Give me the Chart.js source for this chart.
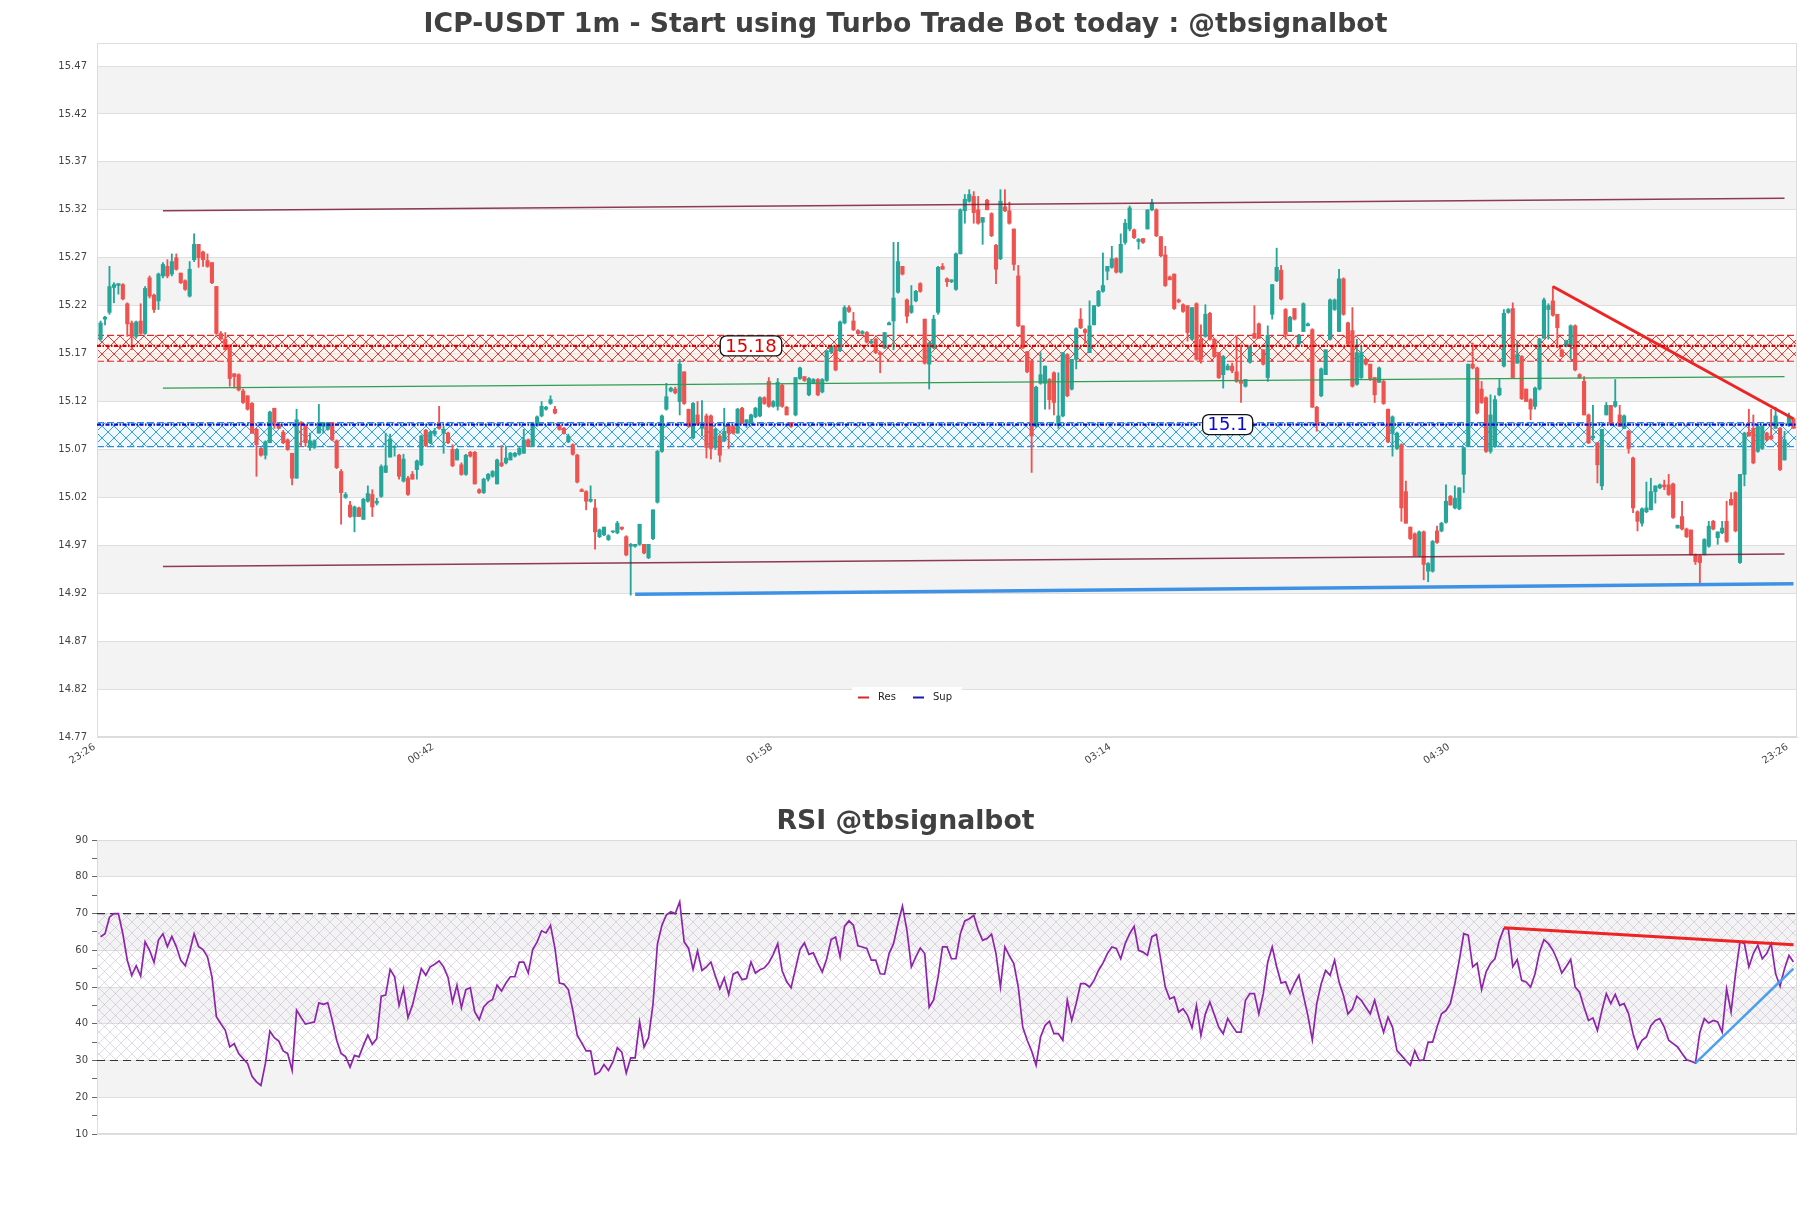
<!DOCTYPE html>
<html><head><meta charset="utf-8">
<script src="https://cdn.jsdelivr.net/npm/chart.js@4.4.1/dist/chart.umd.min.js"></script>
<style>
html,body{margin:0;padding:0;background:#fff;width:1811px;height:1208px;overflow:hidden}
canvas{position:absolute;left:0}
#c1{top:0}
#c2{top:790px}
</style></head><body>
<canvas id="c1" width="1811" height="790"></canvas>
<canvas id="c2" width="1811" height="418"></canvas>
<script>
// ---------------- data ----------------
const opens = [15.185,15.206,15.213,15.239,15.241,15.242,15.222,15.202,15.188,15.204,
15.191,15.249,15.231,15.225,15.251,15.261,15.253,15.270,15.254,15.246,
15.230,15.268,15.284,15.276,15.267,15.265,15.240,15.191,15.185,15.179,
15.149,15.148,15.131,15.126,15.118,15.091,15.071,15.064,15.077,15.113,
15.096,15.088,15.080,15.066,15.040,15.098,15.095,15.072,15.072,15.087,
15.094,15.091,15.098,15.079,15.047,15.020,15.012,15.000,15.009,14.997,
15.016,15.023,15.014,15.021,15.046,15.062,15.072,15.064,15.037,15.040,
15.044,15.049,15.054,15.090,15.077,15.086,15.096,15.087,15.087,15.070,
15.059,15.054,15.044,15.067,15.067,15.028,15.025,15.039,15.042,15.034,
15.056,15.056,15.059,15.063,15.065,15.066,15.080,15.073,15.095,15.105,
15.112,15.118,15.112,15.095,15.092,15.078,15.075,15.064,15.028,15.026,
15.016,15.009,14.979,14.981,14.976,14.984,14.983,14.989,14.979,14.969,
14.969,14.971,14.971,14.957,14.977,15.015,15.068,15.112,15.131,15.133,
15.120,15.151,15.112,15.082,15.106,15.092,15.105,15.105,15.072,15.084,
15.079,15.095,15.094,15.087,15.113,15.098,15.098,15.104,15.105,15.124,
15.141,15.115,15.115,15.137,15.114,15.098,15.106,15.144,15.146,15.127,
15.139,15.143,15.130,15.142,15.172,15.178,15.173,15.202,15.218,15.204,
15.194,15.191,15.192,15.181,15.185,15.171,15.176,15.200,15.204,15.234,
15.261,15.226,15.213,15.225,15.243,15.206,15.159,15.176,15.213,15.261,
15.248,15.245,15.237,15.274,15.319,15.329,15.334,15.320,15.307,15.330,
15.316,15.283,15.269,15.323,15.319,15.300,15.251,15.199,15.172,15.162,
15.094,15.139,15.139,15.143,15.150,15.095,15.105,15.169,15.133,15.164,
15.206,15.195,15.171,15.200,15.220,15.235,15.256,15.260,15.269,15.255,
15.286,15.300,15.299,15.287,15.290,15.300,15.320,15.320,15.292,15.273,
15.250,15.253,15.226,15.221,15.220,15.185,15.222,15.185,15.188,15.212,
15.185,15.171,15.148,15.153,15.157,15.151,15.141,15.136,15.161,15.191,
15.201,15.174,15.145,15.211,15.246,15.257,15.216,15.193,15.217,15.180,
15.193,15.199,15.195,15.114,15.126,15.148,15.185,15.216,15.193,15.248,
15.202,15.194,15.138,15.145,15.164,15.159,15.145,15.140,15.141,15.112,
15.087,15.071,15.075,15.026,14.989,14.982,14.959,14.984,14.943,14.943,
14.985,14.985,14.994,15.021,15.009,15.008,15.044,15.073,15.159,15.155,
15.133,15.124,15.068,15.073,15.127,15.157,15.213,15.217,15.160,15.167,
15.133,15.122,15.115,15.133,15.186,15.216,15.225,15.211,15.174,15.178,
15.178,15.199,15.148,15.141,15.106,15.082,15.077,15.032,15.106,15.116,
15.115,15.106,15.092,15.089,15.061,15.005,14.993,15.005,15.007,15.026,
15.030,15.033,15.033,15.034,14.988,15.000,14.987,14.986,14.960,14.959,
14.960,14.969,14.995,14.978,14.983,14.995,15.018,15.025,14.952,15.044,
15.088,15.092,15.068,15.071,15.087,15.084,15.092,15.092,15.059,15.095,
15.102];
const highs = [15.204,15.209,15.261,15.244,15.243,15.243,15.223,15.204,15.204,15.222,
15.240,15.251,15.232,15.254,15.265,15.268,15.274,15.274,15.254,15.247,
15.266,15.295,15.284,15.277,15.274,15.265,15.240,15.193,15.192,15.179,
15.149,15.149,15.133,15.126,15.119,15.092,15.072,15.079,15.110,15.113,
15.097,15.090,15.081,15.066,15.112,15.099,15.096,15.087,15.080,15.117,
15.098,15.098,15.098,15.080,15.049,15.025,15.016,15.011,15.010,15.019,
15.032,15.028,15.019,15.054,15.087,15.086,15.074,15.065,15.065,15.042,
15.047,15.059,15.085,15.091,15.089,15.092,15.115,15.094,15.088,15.075,
15.071,15.056,15.065,15.068,15.068,15.029,15.040,15.045,15.048,15.060,
15.074,15.073,15.067,15.067,15.072,15.091,15.081,15.098,15.105,15.120,
15.115,15.126,15.115,15.096,15.093,15.086,15.076,15.065,15.029,15.027,
15.032,15.018,14.987,14.989,14.981,14.985,14.995,14.989,14.980,14.972,
14.971,14.992,14.971,14.971,15.007,15.069,15.106,15.139,15.135,15.135,
15.164,15.151,15.112,15.119,15.120,15.121,15.107,15.106,15.092,15.086,
15.113,15.096,15.095,15.113,15.114,15.101,15.107,15.114,15.125,15.125,
15.145,15.121,15.144,15.138,15.115,15.098,15.145,15.156,15.146,15.145,
15.144,15.144,15.144,15.173,15.178,15.178,15.204,15.220,15.220,15.213,
15.195,15.194,15.193,15.185,15.186,15.172,15.192,15.203,15.286,15.286,
15.261,15.227,15.241,15.236,15.244,15.206,15.182,15.210,15.261,15.264,
15.249,15.247,15.275,15.321,15.336,15.341,15.339,15.334,15.312,15.331,
15.317,15.284,15.341,15.341,15.328,15.300,15.262,15.199,15.172,15.163,
15.136,15.171,15.157,15.144,15.151,15.150,15.171,15.170,15.164,15.197,
15.217,15.196,15.225,15.220,15.236,15.275,15.261,15.282,15.270,15.295,
15.310,15.324,15.300,15.290,15.290,15.320,15.331,15.321,15.292,15.282,
15.251,15.253,15.227,15.222,15.220,15.218,15.223,15.200,15.221,15.213,
15.186,15.171,15.168,15.159,15.160,15.188,15.179,15.143,15.178,15.220,
15.202,15.174,15.199,15.242,15.280,15.262,15.217,15.209,15.217,15.190,
15.223,15.202,15.196,15.115,15.155,15.174,15.227,15.227,15.258,15.249,
15.203,15.218,15.185,15.178,15.165,15.159,15.145,15.156,15.142,15.112,
15.105,15.088,15.076,15.037,14.989,14.983,14.985,14.985,14.952,14.975,
14.990,14.994,15.033,15.022,15.032,15.030,15.072,15.159,15.181,15.156,
15.141,15.125,15.127,15.126,15.143,15.216,15.217,15.223,15.183,15.168,
15.133,15.123,15.135,15.186,15.228,15.222,15.240,15.211,15.174,15.184,
15.200,15.200,15.149,15.146,15.107,15.116,15.077,15.091,15.119,15.116,
15.143,15.116,15.106,15.090,15.062,15.006,15.009,15.036,15.040,15.032,
15.034,15.038,15.044,15.035,14.991,15.016,14.988,14.986,14.961,14.960,
14.977,14.995,14.996,14.984,14.995,15.016,15.025,15.026,15.044,15.088,
15.112,15.106,15.094,15.095,15.088,15.112,15.114,15.093,15.089,15.108,
15.103];
const lows = [15.183,15.200,15.211,15.223,15.232,15.226,15.188,15.174,15.186,15.190,
15.190,15.228,15.213,15.216,15.249,15.249,15.251,15.257,15.243,15.236,
15.229,15.266,15.260,15.261,15.260,15.243,15.190,15.185,15.174,15.136,
15.134,15.131,15.118,15.111,15.087,15.042,15.063,15.060,15.077,15.092,
15.092,15.076,15.069,15.033,15.040,15.073,15.073,15.069,15.071,15.087,
15.087,15.090,15.079,15.050,14.992,15.019,14.999,14.984,15.000,14.997,
15.015,15.000,15.012,15.020,15.046,15.062,15.063,15.039,15.036,15.022,
15.039,15.039,15.053,15.073,15.076,15.084,15.091,15.066,15.076,15.052,
15.059,15.043,15.043,15.062,15.034,15.024,15.024,15.037,15.041,15.034,
15.052,15.055,15.059,15.062,15.064,15.066,15.073,15.073,15.094,15.104,
15.111,15.117,15.107,15.090,15.086,15.077,15.064,15.035,15.026,15.007,
15.015,14.966,14.978,14.980,14.975,14.983,14.982,14.986,14.959,14.918,
14.968,14.970,14.961,14.956,14.976,15.014,15.067,15.111,15.130,15.128,
15.106,15.117,15.093,15.081,15.095,15.084,15.061,15.060,15.070,15.057,
15.078,15.071,15.086,15.087,15.097,15.093,15.097,15.103,15.104,15.117,
15.114,15.114,15.111,15.114,15.106,15.093,15.105,15.143,15.141,15.126,
15.139,15.126,15.129,15.141,15.170,15.152,15.172,15.201,15.213,15.194,
15.190,15.190,15.181,15.180,15.170,15.150,15.175,15.200,15.174,15.233,
15.252,15.202,15.212,15.224,15.234,15.159,15.133,15.175,15.211,15.258,
15.240,15.244,15.236,15.274,15.306,15.328,15.306,15.305,15.284,15.320,
15.292,15.243,15.268,15.318,15.305,15.257,15.198,15.175,15.150,15.046,
15.093,15.138,15.112,15.112,15.106,15.092,15.104,15.125,15.132,15.154,
15.196,15.181,15.171,15.200,15.219,15.234,15.247,15.259,15.254,15.254,
15.284,15.298,15.290,15.279,15.285,15.300,15.319,15.292,15.271,15.240,
15.247,15.216,15.223,15.213,15.183,15.184,15.163,15.160,15.187,15.184,
15.166,15.144,15.134,15.153,15.150,15.140,15.119,15.135,15.160,15.186,
15.186,15.158,15.141,15.206,15.245,15.226,15.185,15.193,15.205,15.178,
15.193,15.199,15.114,15.089,15.125,15.148,15.184,15.215,15.193,15.210,
15.179,15.135,15.137,15.144,15.158,15.142,15.119,15.140,15.117,15.077,
15.063,15.070,14.995,14.993,14.976,14.959,14.958,14.934,14.932,14.942,
14.972,14.984,14.993,15.012,15.008,15.007,15.025,15.073,15.154,15.107,
15.118,15.067,15.066,15.072,15.126,15.156,15.212,15.144,15.160,15.122,
15.120,15.101,15.112,15.132,15.186,15.185,15.209,15.176,15.167,15.177,
15.164,15.152,15.144,15.106,15.076,15.080,15.035,15.028,15.106,15.095,
15.114,15.094,15.092,15.066,15.004,14.985,14.990,15.004,15.007,15.014,
15.029,15.028,15.022,14.998,14.988,14.986,14.978,14.960,14.950,14.929,
14.960,14.968,14.986,14.971,14.982,14.973,15.012,14.984,14.951,15.032,
15.084,15.055,15.067,15.070,15.079,15.080,15.092,15.048,15.059,15.094,
15.092];
const closes = [15.202,15.208,15.240,15.242,15.243,15.227,15.201,15.188,15.203,15.191,
15.238,15.230,15.216,15.253,15.263,15.251,15.266,15.258,15.244,15.237,
15.258,15.284,15.270,15.268,15.261,15.244,15.191,15.185,15.174,15.144,
15.146,15.132,15.119,15.112,15.087,15.075,15.064,15.078,15.109,15.098,
15.092,15.077,15.070,15.040,15.101,15.096,15.077,15.079,15.079,15.098,
15.098,15.098,15.080,15.051,15.025,15.023,15.000,15.010,15.000,15.018,
15.024,15.010,15.016,15.052,15.053,15.081,15.073,15.042,15.060,15.023,
15.039,15.058,15.084,15.074,15.088,15.089,15.092,15.091,15.077,15.053,
15.070,15.044,15.064,15.063,15.034,15.025,15.039,15.044,15.047,15.059,
15.053,15.061,15.066,15.066,15.071,15.080,15.073,15.096,15.104,15.115,
15.114,15.122,15.108,15.091,15.087,15.084,15.065,15.036,15.026,15.016,
15.018,14.984,14.986,14.989,14.980,14.985,14.993,14.987,14.960,14.971,
14.971,14.992,14.962,14.971,15.007,15.068,15.105,15.125,15.134,15.129,
15.159,15.118,15.094,15.118,15.096,15.096,15.072,15.071,15.091,15.064,
15.089,15.087,15.087,15.112,15.098,15.101,15.106,15.113,15.124,15.118,
15.115,15.120,15.140,15.115,15.106,15.094,15.145,15.155,15.142,15.144,
15.143,15.127,15.143,15.173,15.178,15.153,15.203,15.218,15.214,15.195,
15.191,15.193,15.182,15.183,15.171,15.169,15.192,15.202,15.228,15.266,
15.253,15.209,15.220,15.235,15.235,15.160,15.181,15.206,15.260,15.258,
15.245,15.247,15.274,15.320,15.331,15.336,15.317,15.306,15.312,15.320,
15.293,15.258,15.329,15.319,15.306,15.263,15.199,15.176,15.151,15.084,
15.135,15.148,15.157,15.122,15.119,15.105,15.171,15.126,15.164,15.196,
15.197,15.192,15.199,15.220,15.235,15.241,15.261,15.269,15.255,15.284,
15.306,15.322,15.291,15.289,15.286,15.320,15.327,15.293,15.272,15.241,
15.247,15.217,15.224,15.214,15.192,15.218,15.164,15.164,15.211,15.185,
15.167,15.145,15.167,15.157,15.152,15.141,15.139,15.143,15.177,15.186,
15.186,15.159,15.189,15.242,15.260,15.227,15.190,15.208,15.206,15.188,
15.222,15.201,15.114,15.096,15.154,15.174,15.226,15.226,15.248,15.211,
15.180,15.136,15.171,15.171,15.159,15.143,15.127,15.155,15.118,15.078,
15.104,15.087,15.009,14.993,14.977,14.959,14.984,14.950,14.951,14.974,
14.973,14.993,15.016,15.012,15.019,15.030,15.072,15.159,15.155,15.108,
15.119,15.068,15.106,15.122,15.134,15.212,15.216,15.145,15.169,15.123,
15.120,15.112,15.134,15.185,15.226,15.220,15.210,15.197,15.167,15.183,
15.199,15.153,15.145,15.106,15.077,15.084,15.054,15.091,15.116,15.096,
15.120,15.094,15.105,15.071,15.009,14.995,15.008,15.009,15.026,15.032,
15.033,15.031,15.023,14.999,14.991,14.987,14.979,14.960,14.953,14.952,
14.976,14.990,14.987,14.984,14.988,14.974,15.012,14.985,15.044,15.087,
15.084,15.056,15.094,15.094,15.080,15.081,15.105,15.049,15.080,15.104,
15.092];

const rsiValues = [63.7,64.5,69,70,70,64.5,57.3,53.2,55.8,53,
62.3,60,56.7,62.8,64.5,61,63.8,61,57.3,55.8,
59.6,64.5,61,60.2,58.2,52.8,41.9,40,38.2,33.7,
34.6,31.9,30.5,29.2,25.7,24.2,23.2,29.2,38,36.2,
35.3,32.6,31.9,27.3,43.7,41.7,39.9,40.2,40.5,45.7,
45.3,45.7,41,35.5,31.9,31.1,28.2,31.4,31,34.1,
36.9,34.4,36,47.5,47.8,54.8,52.8,45,49.6,41.7,
45,50,55,53.2,55.5,56.2,57.1,55.5,52.6,45.9,
50.5,44.4,49.3,49.8,43.2,41.1,44.6,45.9,46.6,50.5,
48.9,51.1,52.8,52.8,56.8,56.8,53.8,60.2,62.3,65.3,
64.7,66.8,60.5,51.1,50.8,49.3,43.7,36.9,34.8,32.6,
32.6,26.2,26.9,28.9,27.3,29.6,33.5,32.3,26.6,30.7,
30.7,40.5,33.7,36.2,45.3,61.7,66.8,69.6,70.5,70,
73.2,62.3,60.5,54.8,59.8,
54.5,55.5,56.8,53.0,49.5,52.5,48,53.5,54.1,52,
52.3,56.8,53.8,54.7,55.2,56.6,58.9,61.8,54.4,51.5,
49.8,55.0,60.2,62,58.9,59.3,56.5,54.1,57.7,62.9,
63.6,58.2,66.5,68,66.8,61.2,60.9,60.5,57.3,57.3,
53.6,53.5,59.1,61.8,67.3,72,65.5,55.5,58.2,60.6,
59.1,44.5,46.5,52.7,60.9,60.9,57.7,57.7,64.5,68,
68.6,69.5,65.5,62.7,63.2,64.4,59.1,50,60.9,58.5,
56.4,50,39.1,35.5,32.6,28.7,36.4,39.5,40.7,37.3,
37.3,35.5,46.4,40.9,45.5,50.9,50.9,50,51.8,54.5,
56.5,59.1,60.9,60.5,57.7,61.8,64.5,66.5,60,59.5,
58.6,63.7,64.3,57.3,50,46.8,47.3,43.2,44.1,42.3,
38.9,45,36.8,42.7,45.9,42.5,39.1,37.3,41.4,39.5,
37.7,37.7,46.4,48.2,48.2,42.7,48.2,56.8,60.9,55.5,
51.1,51.4,48.2,50.9,53.2,47.7,42.3,35.6,45.5,50.9,
54.5,53.2,57.3,51.4,47.7,42.7,44.1,47.5,46.4,44.5,
42.7,46.4,41.8,37.7,41.8,39.1,32.7,31.4,30,28.7,
32.7,30,30.2,35,35,39.1,42.7,43.6,45.5,50.9,
57.3,64.5,64.1,55.5,56.5,49.3,54.1,56.4,57.7,62.7,
65.9,65.9,55.5,57.5,51.8,51.4,50,53.6,59.5,62.9,
61.8,60,57.3,53.8,55.6,57.5,50,48.6,44.5,40.9,
41.6,38.2,43.6,48.2,45.5,48,45,45.5,42.7,37.3,
33.2,35.5,36.4,39.5,40.9,41.4,39.1,35.5,34.6,33.7,
31.9,30.2,29.8,29.3,37.7,41.4,40.2,40.9,40.5,37.7,
49.5,43.2,53.6,62.3,61.8,55.5,59.1,61.4,57.7,59.1,
61.8,53.6,50.2,55,58.6,56.8];

const xTickIndex = [0, 76, 152, 228, 304, 380];
const xTickLabels = ['23:26', '00:42', '01:58', '03:14', '04:30', '23:26'];
const priceTicks = [14.77,14.82,14.87,14.92,14.97,15.02,15.07,15.12,15.17,15.22,15.27,15.32,15.37,15.42,15.47];
const priceMin = 14.77, priceMax = 15.494;
const xMin = -0.8, xMax = 380.8;

const resZone = [15.162, 15.189];
const resLevel = 15.178;
const resLabel = '15.18';
const resLabelIndex = 146;
const supZone = [15.073, 15.098];
const supLevel = 15.096;
const supLabel = '15.1';
const supLabelIndex = 253;

const channelUpper = [{x: 14, y: 15.319}, {x: 378, y: 15.332}];
const channelLower = [{x: 14, y: 14.948}, {x: 378, y: 14.961}];
const channelMid   = [{x: 14, y: 15.134}, {x: 378, y: 15.146}];
const supportTrend = [{x: 120, y: 14.919}, {x: 380, y: 14.930}];
const resistTrend  = [{x: 326, y: 15.240}, {x: 380, y: 15.102}];

const rsiTicks = [10,15,20,25,30,35,40,45,50,55,60,65,70,75,80,85,90];
const rsiOverbought = 70, rsiOversold = 30;
const rsiResTrend = [{x: 315, y: 66.1}, {x: 380, y: 61.5}];
const rsiSupTrend = [{x: 358, y: 29.3}, {x: 380, y: 55.0}];

const legendItems = [{label: 'Res', color: '#d62728'}, {label: 'Sup', color: '#1a1ab0'}];

// ---------------- helpers ----------------
const GREEN = '#26a69a', RED = '#ef5350';
const FONT = 'DejaVu Sans';
const idx = opens.map((_, i) => i);
const candleColor = i => closes[i] >= opens[i] ? GREEN : RED;

function hatchTile(color, size, lw) {
  const c = document.createElement('canvas');
  c.width = size; c.height = size;
  const g = c.getContext('2d');
  g.strokeStyle = color; g.lineWidth = lw;
  g.beginPath();
  g.moveTo(0, 0); g.lineTo(size, size);
  g.moveTo(size, 0); g.lineTo(0, size);
  g.stroke();
  return c;
}
const resTile = hatchTile('rgba(225,30,30,0.85)', 12, 1);
const supTile = hatchTile('rgba(30,150,225,0.9)', 12, 1);
const rsiTile = hatchTile('rgba(175,150,200,0.45)', 11, 0.8);

function bandPluginFor(edges) {
  return {
    id: 'bands',
    beforeDraw(chart) {
      const {ctx, chartArea: a, scales: {y}} = chart;
      ctx.save();
      ctx.fillStyle = '#ffffff';
      ctx.fillRect(a.left, a.top, a.width, a.height);
      ctx.fillStyle = '#f3f3f3';
      for (let i = 0; i < edges.length - 1; i++) {
        if (i % 2 === 1) {
          const y1 = y.getPixelForValue(edges[i + 1]);
          const y0 = y.getPixelForValue(edges[i]);
          ctx.fillRect(a.left, y1, a.width, y0 - y1);
        }
      }
      ctx.restore();
    }
  };
}

function hline(ctx, a, yy) {
  ctx.beginPath(); ctx.moveTo(a.left, yy); ctx.lineTo(a.right, yy); ctx.stroke();
}

function drawZone(ctx, a, y, zone, tint, tile, lineColor) {
  const yt = y.getPixelForValue(zone[1]);
  const yb = y.getPixelForValue(zone[0]);
  ctx.fillStyle = tint;
  ctx.fillRect(a.left, yt, a.width, yb - yt);
  ctx.fillStyle = ctx.createPattern(tile, 'repeat');
  ctx.fillRect(a.left, yt, a.width, yb - yt);
  ctx.strokeStyle = lineColor; ctx.lineWidth = 1.2; ctx.setLineDash([7, 3]);
  hline(ctx, a, yt); hline(ctx, a, yb);
  ctx.setLineDash([]);
}

function drawTag(ctx, x, yy, text, color) {
  ctx.font = '18px "' + FONT + '"';
  const w = ctx.measureText(text).width + 10, h = 20;
  ctx.beginPath();
  ctx.roundRect(x - w / 2, yy - h / 2, w, h, 6);
  ctx.fillStyle = '#ffffff'; ctx.fill();
  ctx.lineWidth = 1.3; ctx.strokeStyle = '#111'; ctx.stroke();
  ctx.fillStyle = color; ctx.textAlign = 'center'; ctx.textBaseline = 'middle';
  ctx.fillText(text, x, yy + 1);
}

const zonePlugin = {
  id: 'zones',
  beforeDatasetsDraw(chart) {
    const {ctx, chartArea: a, scales: {y}} = chart;
    ctx.save();
    ctx.beginPath(); ctx.rect(a.left, a.top, a.width, a.height); ctx.clip();
    drawZone(ctx, a, y, resZone, 'rgba(255,236,228,0.5)', resTile, '#e22b2b');
    drawZone(ctx, a, y, supZone, 'rgba(226,242,255,0.5)', supTile, '#2a8ee0');
    ctx.restore();
    ctx.save();
    ctx.strokeStyle = '#dcdcdc'; ctx.lineWidth = 1;
    ctx.strokeRect(a.left + 0.5, a.top + 0.5, a.width - 1, a.height - 1);
    ctx.restore();
  },
  afterDatasetsDraw(chart) {
    const {ctx, chartArea: a, scales: {x, y}} = chart;
    ctx.save();
    ctx.lineWidth = 2.2; ctx.setLineDash([4, 1.5, 1.5, 1.5]);
    ctx.strokeStyle = '#e00000'; hline(ctx, a, y.getPixelForValue(resLevel));
    ctx.strokeStyle = '#0a0ad8'; hline(ctx, a, y.getPixelForValue(supLevel));
    ctx.setLineDash([]);
    drawTag(ctx, x.getPixelForValue(resLabelIndex), y.getPixelForValue(resLevel), resLabel, '#e00000');
    drawTag(ctx, x.getPixelForValue(supLabelIndex), y.getPixelForValue(supLevel), supLabel, '#0a0ad8');
    ctx.restore();
  },
  afterDraw(chart) {
    const {ctx, chartArea: a} = chart;
    const left = chart.width / 2 - 53.5, top = a.bottom - 50;
    ctx.save();
    ctx.fillStyle = 'rgba(255,255,255,0.92)';
    ctx.fillRect(left, top, 110, 20);
    ctx.font = '10px "' + FONT + '"';
    ctx.textBaseline = 'middle'; ctx.textAlign = 'left';
    legendItems.forEach((it, k) => {
      const x0 = left + 6 + k * 55;
      ctx.strokeStyle = it.color; ctx.lineWidth = 2;
      ctx.beginPath(); ctx.moveTo(x0, top + 10.5); ctx.lineTo(x0 + 11, top + 10.5); ctx.stroke();
      ctx.fillStyle = '#222'; ctx.fillText(it.label, x0 + 20, top + 10);
    });
    ctx.restore();
  }
};

function lineDs(data, color, width, order, dash) {
  return {type: 'line', data, borderColor: color, borderWidth: width, pointRadius: 0,
          tension: 0, fill: false, order, borderDash: dash || []};
}

// invisible right-hand spacer axis so the title stays centred on the whole canvas
const spacerAxis = {
  type: 'linear', position: 'right', display: true,
  grid: {display: false, drawTicks: false}, border: {display: false},
  ticks: {display: false},
  afterFit: s => { s.width = 14; }
};

// ---------------- main chart ----------------
new Chart(document.getElementById('c1'), {
  type: 'bar',
  data: {
    datasets: [
      {type: 'bar', data: idx.map(i => ({x: i, y: [lows[i], highs[i]]})),
       backgroundColor: c => candleColor(c.dataIndex), barThickness: 1.2, grouped: false, order: 5},
      {type: 'bar', data: idx.map(i => ({x: i, y: [opens[i], closes[i]]})),
       backgroundColor: c => candleColor(c.dataIndex), barThickness: 3.5, minBarLength: 1, grouped: false, order: 4},
      lineDs(channelUpper, 'rgba(125,25,50,0.85)', 1.5, 3),
      lineDs(channelLower, 'rgba(125,25,50,0.85)', 1.5, 3),
      lineDs(channelMid, '#2e9e50', 1.3, 3),
      lineDs(supportTrend, '#3d92e6', 3.5, 2),
      lineDs(resistTrend, '#ee2424', 3, 1)
    ]
  },
  options: {
    responsive: false, animation: false, events: [], devicePixelRatio: 1,
    layout: {padding: {left: 0, right: 0, top: 0, bottom: 0}},
    plugins: {
      legend: {display: false}, tooltip: {enabled: false},
      title: {display: true, text: 'ICP-USDT 1m - Start using Turbo Trade Bot today : @tbsignalbot',
              color: '#404040', font: {family: FONT, size: 26.7, weight: 'bold', lineHeight: 1.2},
              padding: {top: 9.5, bottom: 1.5}}
    },
    scales: {
      x: {
        type: 'linear', min: xMin, max: xMax, offset: false,
        grid: {display: false}, border: {display: true, color: '#dcdcdc'},
        afterBuildTicks: s => { s.ticks = xTickIndex.map(v => ({value: v})); },
        ticks: {autoSkip: false, maxRotation: 33, minRotation: 33, color: '#444',
                font: {family: FONT, size: 10}, padding: -4, labelOffset: -6,
                callback: (v, i) => xTickLabels[i]},
        afterFit: s => { s.height = 53; }
      },
      y: {
        type: 'linear', min: priceMin, max: priceMax, position: 'left',
        grid: {color: '#dedede', drawTicks: false}, border: {color: '#dcdcdc'},
        afterBuildTicks: s => { s.ticks = priceTicks.map(v => ({value: v})); },
        ticks: {color: '#444', font: {family: FONT, size: 10}, padding: 10,
                callback: v => Number(v).toFixed(2)},
        afterFit: s => { s.width = 97; }
      },
      ySpacer: spacerAxis
    }
  },
  plugins: [bandPluginFor(priceTicks), zonePlugin]
});

// ---------------- RSI chart ----------------
const rsiBandEdges = rsiTicks.filter(v => v % 10 === 0);
const rsiPlugin = {
  id: 'rsiExtras',
  beforeDatasetsDraw(chart) {
    const {ctx, chartArea: a, scales: {y}} = chart;
    ctx.save();
    const yt = y.getPixelForValue(rsiOverbought), yb = y.getPixelForValue(rsiOversold);
    ctx.fillStyle = ctx.createPattern(rsiTile, 'repeat');
    ctx.fillRect(a.left, yt, a.width, yb - yt);
    ctx.strokeStyle = '#dcdcdc'; ctx.lineWidth = 1;
    ctx.strokeRect(a.left + 0.5, a.top + 0.5, a.width - 1, a.height - 1);
    ctx.restore();
  }
};

new Chart(document.getElementById('c2'), {
  type: 'line',
  data: {
    datasets: [
      lineDs([{x: xMin, y: rsiOverbought}, {x: xMax, y: rsiOverbought}], '#333', 1.2, 4, [8, 5]),
      lineDs([{x: xMin, y: rsiOversold}, {x: xMax, y: rsiOversold}], '#333', 1.2, 4, [8, 5]),
      lineDs(rsiValues.map((v, i) => ({x: i, y: v})), '#8e24aa', 1.7, 3),
      lineDs(rsiResTrend, '#ee2424', 3, 1),
      lineDs(rsiSupTrend, '#4aa0ee', 2.5, 2)
    ]
  },
  options: {
    responsive: false, animation: false, events: [], devicePixelRatio: 1,
    layout: {padding: {left: 0, right: 0, top: 0, bottom: 74}},
    plugins: {
      legend: {display: false}, tooltip: {enabled: false},
      title: {display: true, text: 'RSI @tbsignalbot', color: '#404040',
              font: {family: FONT, size: 26.7, weight: 'bold', lineHeight: 1.2}, padding: {top: 16, bottom: 2}}
    },
    scales: {
      x: {type: 'linear', min: xMin, max: xMax, display: false},
      y: {
        type: 'linear', min: 10, max: 90,
        grid: {color: c => (c.tick && c.tick.value % 10 === 0) ? '#dedede' : 'rgba(0,0,0,0)',
               tickColor: '#666', tickLength: 5, drawTicks: true},
        border: {color: '#dcdcdc'},
        afterBuildTicks: s => { s.ticks = rsiTicks.map(v => ({value: v})); },
        ticks: {color: '#444', font: {family: FONT, size: 10}, padding: 4,
                callback: v => (v % 10 === 0 ? String(v) : '')},
        afterFit: s => { s.width = 97; }
      },
      ySpacer: spacerAxis
    }
  },
  plugins: [bandPluginFor(rsiBandEdges), rsiPlugin]
});
</script>
</body></html>
